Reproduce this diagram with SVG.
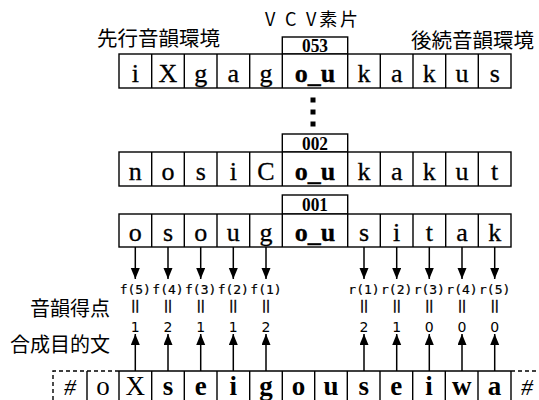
<svg xmlns="http://www.w3.org/2000/svg" width="539" height="400" viewBox="0 0 539 400">
<defs>
<marker id="ah" markerUnits="userSpaceOnUse" markerWidth="12" markerHeight="10" refX="11" refY="4.5" orient="auto">
<path d="M0,0 L11,4.5 L0,9 z" fill="#000"/>
</marker>
<style>
.cell{fill:#fff;stroke:#000;stroke-width:1.4}
.dash{fill:none;stroke:#000;stroke-width:1.4;stroke-dasharray:4 3}
.ln{stroke:#000;stroke-width:1.4;fill:none}
.ch{font-family:"Liberation Serif","Times New Roman",serif;font-size:26px;text-anchor:middle;fill:#000;stroke:#000;stroke-width:0.3}
.chb{font-family:"Liberation Serif","Times New Roman",serif;font-size:27px;text-anchor:middle;fill:#000}
.b{font-weight:bold}
.num{font-family:"Liberation Serif","Times New Roman",serif;font-size:18px;font-weight:bold;text-anchor:middle}
.jp{font-family:"Noto Sans CJK JP","Noto Sans",sans-serif;font-size:20.5px;fill:#000}
.jl{font-family:"Noto Sans CJK JP","Noto Sans",sans-serif;font-size:20px;fill:#000;text-anchor:end}
.vcv{font-family:"Noto Sans CJK JP","Noto Sans",sans-serif;font-size:18px;fill:#000}
.fn{font-family:"DejaVu Sans Mono",monospace;font-size:13px;text-anchor:middle;stroke:#000;stroke-width:0.2}
.eq{font-family:"DejaVu Sans",sans-serif;font-size:12px;text-anchor:middle;fill:#000;stroke:#000;stroke-width:0.5}
.sc{font-family:"DejaVu Sans",sans-serif;font-size:14px;text-anchor:middle}
.arr{stroke:#000;stroke-width:1.5;marker-end:url(#ah)}
</style>
</defs>
<rect width="539" height="400" fill="#fff"/>

<g id="labels">
<text class="jp" x="97" y="46">先行音韻環境</text>
<text class="jp" x="411" y="48">後続音韻環境</text>
<text class="vcv" x="265" y="26" textLength="93" lengthAdjust="spacing">V C V素片</text>
<text class="jl" x="110" y="316">音韻得点</text>
<text class="jl" x="110" y="352">合成目的文</text>
</g>

<g id="row053">
<rect class="cell" x="282.3" y="37" width="65.4" height="17"/>
<text class="num" x="315" y="52" textLength="26" lengthAdjust="spacingAndGlyphs">053</text>
<rect class="cell" x="119" y="54" width="392" height="34"/>
<path class="ln" d="M151.7,54V88M184.3,54V88M217,54V88M249.7,54V88M282.3,54V88M347.7,54V88M380.3,54V88M413,54V88M445.7,54V88M478.3,54V88"/>
<g class="ch">
<text x="135.3" y="82">i</text><text x="168" y="82">X</text><text x="200.7" y="82">g</text><text x="233.3" y="82">a</text><text x="266" y="82">g</text>
<text x="315" y="82" class="b">o_u</text>
<text x="364" y="82">k</text><text x="396.7" y="82">a</text><text x="429.3" y="82">k</text><text x="462" y="82">u</text><text x="494.7" y="82">s</text>
</g>
</g>

<g id="dots">
<rect x="310.5" y="97.5" width="5" height="5"/>
<rect x="310.5" y="109.5" width="5" height="5"/>
<rect x="310.5" y="121.5" width="5" height="5"/>
</g>

<g id="row002">
<rect class="cell" x="282.3" y="134" width="65.4" height="18"/>
<text class="num" x="315" y="149.5" textLength="26" lengthAdjust="spacingAndGlyphs">002</text>
<rect class="cell" x="119" y="152" width="392" height="34"/>
<path class="ln" d="M151.7,152V186M184.3,152V186M217,152V186M249.7,152V186M282.3,152V186M347.7,152V186M380.3,152V186M413,152V186M445.7,152V186M478.3,152V186"/>
<g class="ch">
<text x="135.3" y="180">n</text><text x="168" y="180">o</text><text x="200.7" y="180">s</text><text x="233.3" y="180">i</text><text x="266" y="180">C</text>
<text x="315" y="180" class="b">o_u</text>
<text x="364" y="180">k</text><text x="396.7" y="180">a</text><text x="429.3" y="180">k</text><text x="462" y="180">u</text><text x="494.7" y="180">t</text>
</g>
</g>

<g id="row001">
<rect class="cell" x="282.3" y="195" width="65.4" height="19"/>
<text class="num" x="315" y="211" textLength="26" lengthAdjust="spacingAndGlyphs">001</text>
<rect class="cell" x="119" y="214" width="392" height="33"/>
<path class="ln" d="M151.7,214V247M184.3,214V247M217,214V247M249.7,214V247M282.3,214V247M347.7,214V247M380.3,214V247M413,214V247M445.7,214V247M478.3,214V247"/>
<g class="ch">
<text x="135.3" y="241">o</text><text x="168" y="241">s</text><text x="200.7" y="241">o</text><text x="233.3" y="241">u</text><text x="266" y="241">g</text>
<text x="315" y="241" class="b">o_u</text>
<text x="364" y="241">s</text><text x="396.7" y="241">i</text><text x="429.3" y="241">t</text><text x="462" y="241">a</text><text x="494.7" y="241">k</text>
</g>
</g>

<g id="scores">
<g class="fn">
<text x="135.3" y="294">f(5)</text><text x="168" y="294">f(4)</text><text x="200.7" y="294">f(3)</text><text x="233.3" y="294">f(2)</text><text x="266" y="294">f(1)</text>
<text x="364" y="294">r(1)</text><text x="396.7" y="294">r(2)</text><text x="429.3" y="294">r(3)</text><text x="462" y="294">r(4)</text><text x="494.7" y="294">r(5)</text>
</g>
<g class="eq">
<text x="135.3" y="310">||</text><text x="168" y="310">||</text><text x="200.7" y="310">||</text><text x="233.3" y="310">||</text><text x="266" y="310">||</text>
<text x="364" y="310">||</text><text x="396.7" y="310">||</text><text x="429.3" y="310">||</text><text x="462" y="310">||</text><text x="494.7" y="310">||</text>
</g>
<g class="sc">
<text x="135.3" y="332">1</text><text x="168" y="332">2</text><text x="200.7" y="332">1</text><text x="233.3" y="332">1</text><text x="266" y="332">2</text>
<text x="364" y="332">2</text><text x="396.7" y="332">1</text><text x="429.3" y="332">0</text><text x="462" y="332">0</text><text x="494.7" y="332">0</text>
</g>
</g>

<g id="target">
<path class="dash" d="M53,400V371H119"/>
<path class="dash" d="M511,371H539"/>
<path class="ln" d="M119,371H511M87,371V400M119,371V400M151.7,371V400M184.3,371V400M217,371V400M249.7,371V400M282.3,371V400M314.7,371V400M347.3,371V400M380,371V400M412.7,371V400M445.3,371V400M478,371V400M511,371V400"/>
<g class="chb">
<text x="70" y="395" style="font-style:italic;font-size:24px">#</text>
<text x="103" y="395">o</text>
<text x="135.3" y="395">X</text>
<g class="b">
<text x="168" y="395">s</text><text x="200.7" y="395">e</text><text x="233.3" y="395">i</text><text x="266" y="395">g</text><text x="298.5" y="395">o</text><text x="331" y="395">u</text><text x="363.7" y="395">s</text><text x="396.3" y="395">e</text><text x="429" y="395">i</text><text x="461.7" y="395">w</text><text x="494.5" y="395">a</text>
</g>
<text x="527" y="395" style="font-style:italic;font-size:24px">#</text>
</g>
</g>

<g id="connectors">
<line class="arr" x1="135.3" y1="247" x2="135.3" y2="279"/>
<line class="arr" x1="168" y1="247" x2="168" y2="279"/>
<line class="arr" x1="200.7" y1="247" x2="200.7" y2="279"/>
<line class="arr" x1="233.3" y1="247" x2="233.3" y2="279"/>
<line class="arr" x1="266" y1="247" x2="266" y2="279"/>
<line class="arr" x1="364" y1="247" x2="364" y2="279"/>
<line class="arr" x1="396.7" y1="247" x2="396.7" y2="279"/>
<line class="arr" x1="429.3" y1="247" x2="429.3" y2="279"/>
<line class="arr" x1="462" y1="247" x2="462" y2="279"/>
<line class="arr" x1="494.7" y1="247" x2="494.7" y2="279"/>
<line class="arr" x1="135.3" y1="371" x2="135.3" y2="334"/>
<line class="arr" x1="168" y1="371" x2="168" y2="334"/>
<line class="arr" x1="200.7" y1="371" x2="200.7" y2="334"/>
<line class="arr" x1="233.3" y1="371" x2="233.3" y2="334"/>
<line class="arr" x1="266" y1="371" x2="266" y2="334"/>
<line class="arr" x1="364" y1="371" x2="364" y2="334"/>
<line class="arr" x1="396.7" y1="371" x2="396.7" y2="334"/>
<line class="arr" x1="429.3" y1="371" x2="429.3" y2="334"/>
<line class="arr" x1="462" y1="371" x2="462" y2="334"/>
<line class="arr" x1="494.7" y1="371" x2="494.7" y2="334"/>
</g>
</svg>
